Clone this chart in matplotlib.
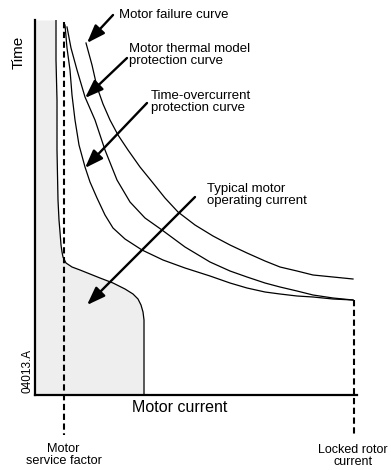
#!/usr/bin/env python3

import matplotlib
matplotlib.use("Agg")
import matplotlib.pyplot as plt

#-------------------------------------------------------------
# curve data (current on x, time on y, arbitrary units)
failure_x = [51, 57, 62, 68, 75, 83, 93, 105, 118, 130, 143, 160, 178,
             195, 212, 230, 245, 262, 278, 298, 318]
failure_y = [352, 330, 308, 291, 275, 260, 245, 228, 212, 197, 183, 170,
             159, 150, 142, 134, 128, 124, 120, 118, 116]

thermal_x = [32, 36, 42, 50, 60, 70, 82, 95, 110, 127, 150, 175, 195,
             212, 230, 245, 262, 278, 298, 318]
thermal_y = [368, 347, 325, 298, 275, 245, 215, 193, 177, 165, 148, 133,
             124, 118, 112, 108, 104, 100, 97, 95]

overcurrent_x = [30, 32, 35, 37, 40, 44, 50, 55, 62, 70, 78, 90, 107,
                 128, 150, 175, 195, 212, 230, 245, 262, 278, 298, 318]
overcurrent_y = [370, 347, 325, 300, 275, 250, 228, 213, 197, 180, 167,
                 156, 145, 135, 127, 119, 112, 107, 103, 101, 99, 98, 96, 95]

operating_x = [21, 21, 22, 22, 23, 24, 25, 26, 27, 28, 31, 37, 45, 55,
               65, 78, 90, 98, 103, 106, 108, 109, 109]
operating_y = [375, 335, 295, 245, 195, 175, 163, 150, 143, 138, 132,
               128, 125, 121, 117, 112, 106, 101, 96, 90, 83, 75, 0]

service_factor = 28.5
locked_rotor = 319
locked_rotor_time = 95

#-------------------------------------------------------------
def drawArrow(ax, tail, tip):
    ax.annotate("", xy=tip, xytext=tail, annotation_clip=False,
                arrowprops=dict(arrowstyle="-|>,head_length=0.55,head_width=0.2",
                                mutation_scale=20, lw=1.7, color="black",
                                shrinkA=0, shrinkB=0))

#-------------------------------------------------------------
def main():

    plt.rcParams["font.family"] = ["Liberation Sans", "DejaVu Sans"]

    fig = plt.figure(figsize=(3.91, 4.70), dpi=100)
    ax = fig.add_axes([35/391, 75/470, 322/391, 375/470])
    ax.set_xlim(0, 322)
    ax.set_ylim(0, 375)

    for side in ("top", "right"):
        ax.spines[side].set_visible(False)
    for side in ("left", "bottom"):
        ax.spines[side].set_linewidth(1.6)
    ax.set_xticks([])
    ax.set_yticks([])

    #operating current area
    ax.fill_betweenx(operating_y, 0, operating_x, color="#eeeeee", lw=0)
    ax.plot(operating_x, operating_y, color="black", lw=0.9)

    #protection curves
    ax.plot(failure_x, failure_y, color="black", lw=0.9)
    ax.plot(thermal_x, thermal_y, color="black", lw=0.9)
    ax.plot(overcurrent_x, overcurrent_y, color="black", lw=0.9)

    #reference currents
    ax.plot([service_factor, service_factor], [373, -40], color="black",
            lw=1.5, dashes=[3, 1.7], clip_on=False)
    ax.plot([locked_rotor, locked_rotor], [locked_rotor_time, -40],
            color="black", lw=1.5, dashes=[3, 1.7], clip_on=False)

    #labels and arrows
    fs = 9.5
    ax.text(84, 380, "Motor failure curve", fontsize=fs, va="center")
    drawArrow(ax, (78, 380), (52, 352))

    ax.text(94, 340, "Motor thermal model\nprotection curve", fontsize=fs,
            va="center", linespacing=1.0)
    drawArrow(ax, (92, 337), (50, 297))

    ax.text(116, 293, "Time-overcurrent\nprotection curve", fontsize=fs,
            va="center", linespacing=1.0)
    drawArrow(ax, (112, 292), (50, 227))

    ax.text(172, 200, "Typical motor\noperating current", fontsize=fs,
            va="center", linespacing=1.0)
    drawArrow(ax, (160, 198), (52, 90))

    ax.text(145, -12, "Motor current", fontsize=11.5, ha="center", va="center")
    ax.text(-16, 343, "Time", fontsize=11, rotation=90, ha="center", va="center")
    ax.text(-7.3, 2, "04013.A", fontsize=8.5, rotation=90, ha="center", va="bottom")

    ax.text(service_factor, -60, "Motor\nservice factor", fontsize=9.2,
            ha="center", va="center", linespacing=1.0)
    ax.text(locked_rotor - 1, -61, "Locked rotor\ncurrent", fontsize=9.0,
            ha="center", va="center", linespacing=1.0)

    fig.savefig("out.png", dpi=100)
    plt.close(fig)

#-------------------------------------------------------------
if __name__ == "__main__":
    main()
